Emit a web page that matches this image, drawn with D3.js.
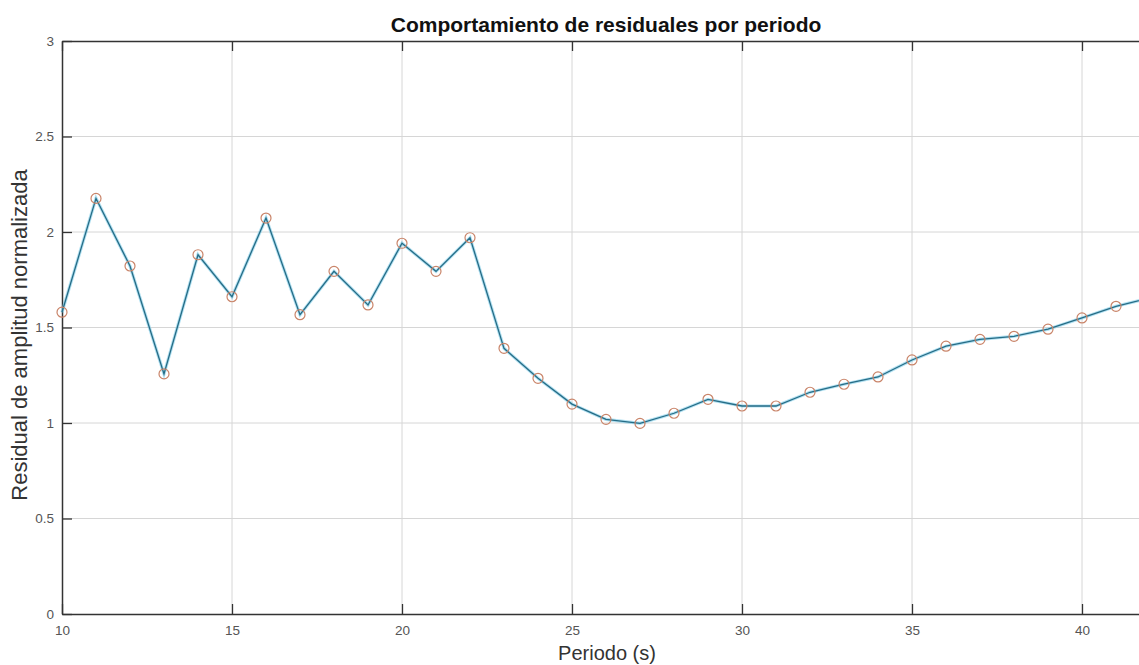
<!DOCTYPE html>
<html>
<head>
<meta charset="utf-8">
<script src="https://cdn.jsdelivr.net/npm/d3@7"></script>
<style>
  body { margin: 0; background: #fff; }
  svg { display: block; font-family: "Liberation Sans", Arial, sans-serif; }
</style>
</head>
<body>
<script>
// datos
var periodos = [10, 11, 12, 13, 14, 15, 16, 17, 18, 19, 20, 21, 22, 23, 24, 25, 26,
  27, 28, 29, 30, 31, 32, 33, 34, 35, 36, 37, 38, 39, 40, 41, 42];
var residuales = [1.58, 2.176, 1.822, 1.257, 1.881, 1.661, 2.073, 1.567, 1.794, 1.618,
  1.941, 1.794, 1.970, 1.391, 1.234, 1.099, 1.019, 0.998, 1.051, 1.124, 1.089, 1.089,
  1.161, 1.203, 1.241, 1.330, 1.402, 1.438, 1.454, 1.491, 1.550, 1.611, 1.655];
var xTicks = [10, 15, 20, 25, 30, 35, 40];
var yTicks = [0, 0.5, 1, 1.5, 2, 2.5, 3];

var ancho = 1139, alto = 665;
var mIzq = 62, mSup = 41, mInf = 614;

var svg = d3.select("body").append("svg")
  .attr("width", ancho)
  .attr("height", alto);

// escalas (el grafico original esta recortado a la derecha)
var x = d3.scaleLinear().domain([10, 45]).range([mIzq, mIzq + 35 * 34]);
var y = d3.scaleLinear().domain([0, 3]).range([mInf, mSup]);

// rejilla
svg.append("g").selectAll("line")
  .data(xTicks.slice(1))
  .enter().append("line")
  .attr("x1", function(d) { return x(d); })
  .attr("x2", function(d) { return x(d); })
  .attr("y1", mSup).attr("y2", mInf)
  .style("stroke", "#d6d6d6").style("stroke-width", 1);

svg.append("g").selectAll("line")
  .data(yTicks.slice(1, -1))
  .enter().append("line")
  .attr("x1", mIzq).attr("x2", ancho)
  .attr("y1", function(d) { return y(d); })
  .attr("y2", function(d) { return y(d); })
  .style("stroke", "#d6d6d6").style("stroke-width", 1);

// ejes
var xAxis = svg.append("g")
  .attr("transform", "translate(0," + mInf + ")")
  .call(d3.axisBottom(x).tickValues(xTicks).tickSizeInner(-10).tickSizeOuter(0).tickPadding(11));
var xTop = svg.append("g")
  .attr("transform", "translate(0," + mSup + ")")
  .call(d3.axisTop(x).tickValues(xTicks).tickSizeInner(-10).tickSizeOuter(0).tickFormat(""));
var yAxis = svg.append("g")
  .attr("transform", "translate(" + mIzq + ",0)")
  .call(d3.axisLeft(y).tickValues(yTicks).tickSizeInner(-10).tickSizeOuter(0).tickPadding(8)
    .tickFormat(function(d) { return d; }));

[xAxis, xTop, yAxis].forEach(function(g) {
  g.select(".domain").style("stroke", "#333").style("stroke-width", 1.5);
  g.selectAll(".tick line").style("stroke", "#333").style("stroke-width", 1.3);
  g.selectAll(".tick text")
    .style("fill", "#555")
    .style("font-size", "13.5px")
    .style("font-family", "Liberation Sans, Arial, sans-serif");
});

// linea de datos
var puntos = periodos.map(function(p, i) { return [p, residuales[i]]; });

var linea = d3.line()
  .x(function(d) { return x(d[0]); })
  .y(function(d) { return y(d[1]); });

svg.append("path")
  .datum(puntos)
  .attr("d", linea)
  .style("fill", "none")
  .style("stroke", "#7ccbe8")
  .style("stroke-width", 3.2)
  .style("opacity", 0.6);

svg.append("path")
  .datum(puntos)
  .attr("d", linea)
  .style("fill", "none")
  .style("stroke", "#266c86")
  .style("stroke-width", 1.3);

// marcadores
svg.append("g").selectAll("circle")
  .data(puntos)
  .enter().append("circle")
  .attr("cx", function(d) { return x(d[0]); })
  .attr("cy", function(d) { return y(d[1]); })
  .attr("r", 5)
  .style("fill", "none")
  .style("stroke", "#c98469")
  .style("stroke-width", 1.2);

// textos
svg.append("text")
  .attr("x", 606).attr("y", 32)
  .attr("text-anchor", "middle")
  .style("font-weight", "bold")
  .style("font-size", "21px")
  .style("fill", "#111")
  .text("Comportamiento de residuales por periodo");

svg.append("text")
  .attr("x", 607).attr("y", 660)
  .attr("text-anchor", "middle")
  .style("font-size", "20px")
  .style("fill", "#333")
  .text("Periodo (s)");

svg.append("text")
  .attr("transform", "translate(27,335) rotate(-90)")
  .attr("text-anchor", "middle")
  .style("font-size", "22px")
  .style("fill", "#333")
  .text("Residual de amplitud normalizada");
</script>
</body>
</html>
